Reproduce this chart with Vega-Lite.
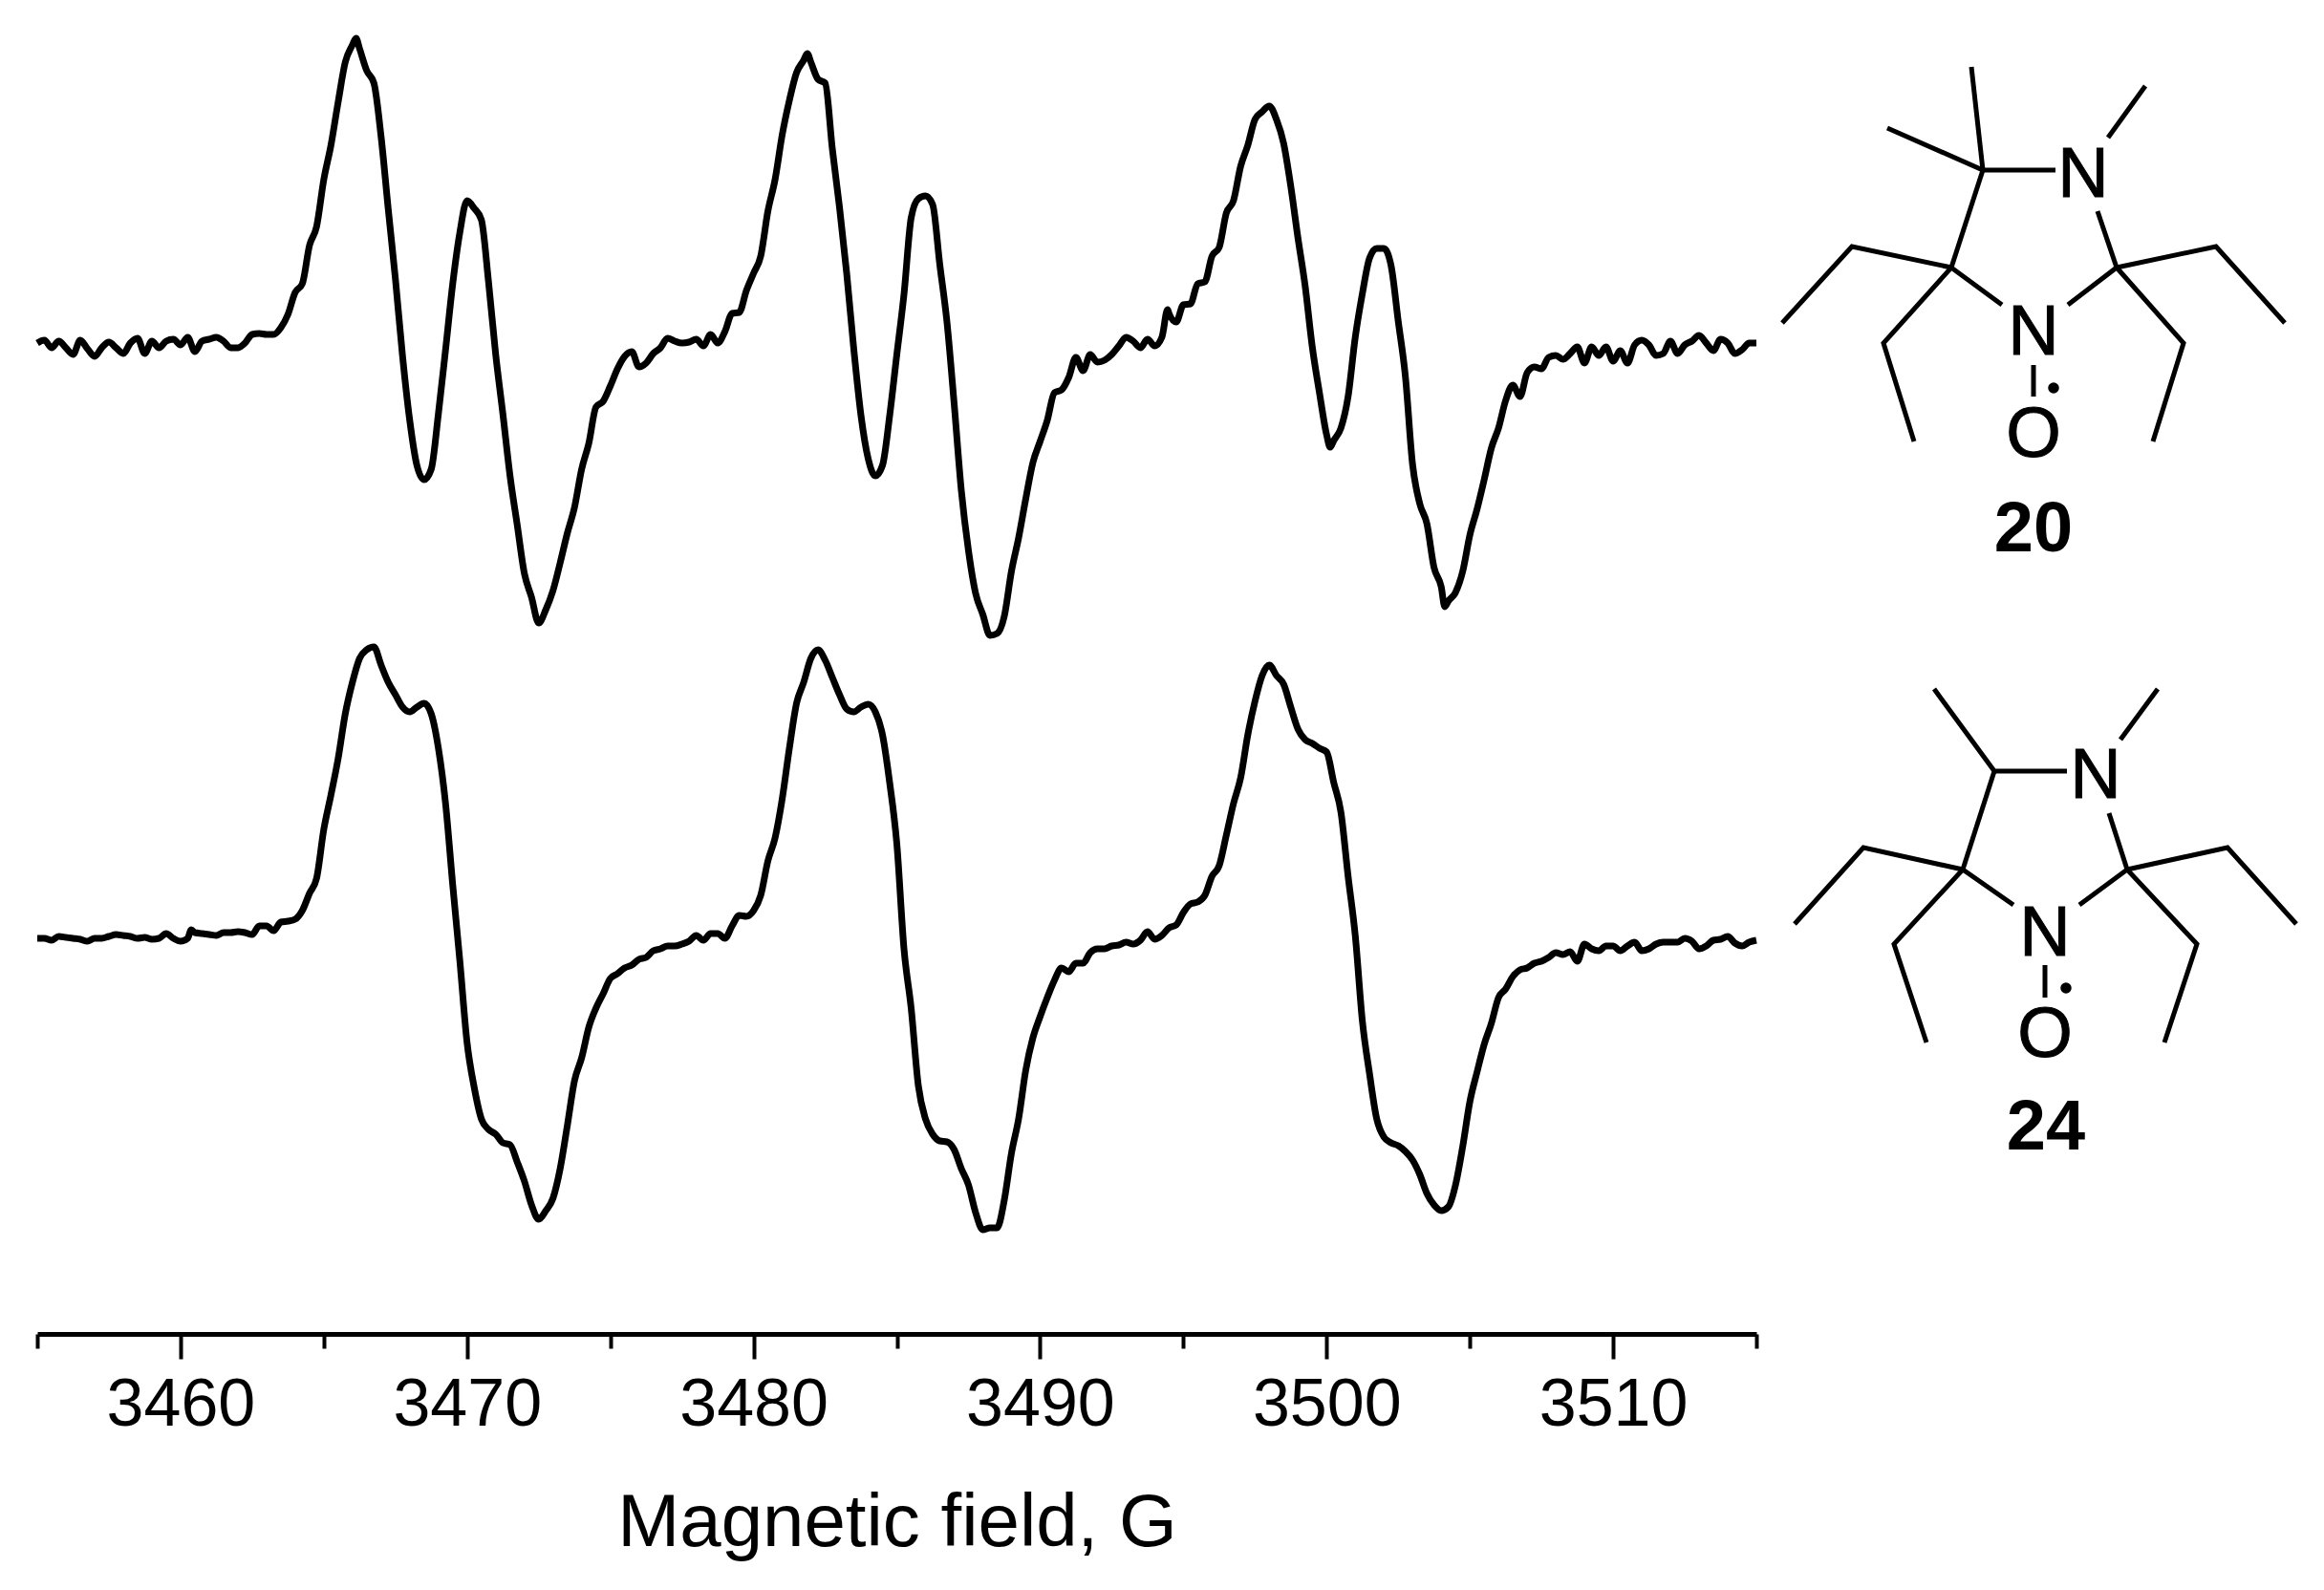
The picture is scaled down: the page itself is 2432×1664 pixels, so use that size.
{
"$schema":"https://vega.github.io/schema/vega-lite/v6.json",
"width":2432,"height":1396,
"autosize":"none",
"padding":{"left":0,"top":0,"right":0,"bottom":268},
"background":"white",
"config":{"view":{"stroke":null},"font":"Liberation Sans"},
"datasets":{
"spectra":[
{"t":"20","G":3455,"s":359},{"t":"20","G":3455.25,"s":356},{"t":"20","G":3455.5,"s":364},{"t":"20","G":3455.75,"s":357},
{"t":"20","G":3456,"s":364},{"t":"20","G":3456.25,"s":371},{"t":"20","G":3456.5,"s":356},{"t":"20","G":3456.75,"s":365},
{"t":"20","G":3457,"s":373},{"t":"20","G":3457.25,"s":364},{"t":"20","G":3457.5,"s":358},{"t":"20","G":3457.75,"s":364},
{"t":"20","G":3458,"s":370},{"t":"20","G":3458.25,"s":359},{"t":"20","G":3458.5,"s":354},{"t":"20","G":3458.75,"s":370},
{"t":"20","G":3459,"s":357},{"t":"20","G":3459.25,"s":364},{"t":"20","G":3459.5,"s":357},{"t":"20","G":3459.75,"s":355},
{"t":"20","G":3460,"s":361},{"t":"20","G":3460.25,"s":353},{"t":"20","G":3460.5,"s":368},{"t":"20","G":3460.75,"s":357},
{"t":"20","G":3461,"s":355},{"t":"20","G":3461.25,"s":353},{"t":"20","G":3461.5,"s":357},{"t":"20","G":3461.75,"s":364},
{"t":"20","G":3462,"s":364},{"t":"20","G":3462.25,"s":359},{"t":"20","G":3462.5,"s":350},{"t":"20","G":3462.75,"s":349},
{"t":"20","G":3463,"s":350},{"t":"20","G":3463.25,"s":350},{"t":"20","G":3463.5,"s":343},{"t":"20","G":3463.75,"s":329},
{"t":"20","G":3464,"s":306},{"t":"20","G":3464.25,"s":297},{"t":"20","G":3464.5,"s":257},{"t":"20","G":3464.75,"s":237},
{"t":"20","G":3465,"s":188},{"t":"20","G":3465.25,"s":152},{"t":"20","G":3465.5,"s":107},{"t":"20","G":3465.75,"s":65},
{"t":"20","G":3466,"s":47},{"t":"20","G":3466.125,"s":40},{"t":"20","G":3466.25,"s":51},{"t":"20","G":3466.5,"s":74},{"t":"20","G":3466.75,"s":87},
{"t":"20","G":3467,"s":143},{"t":"20","G":3467.25,"s":219},{"t":"20","G":3467.5,"s":292},{"t":"20","G":3467.75,"s":373},
{"t":"20","G":3468,"s":440},{"t":"20","G":3468.25,"s":487},{"t":"20","G":3468.5,"s":502},{"t":"20","G":3468.75,"s":491},
{"t":"20","G":3469,"s":433},{"t":"20","G":3469.25,"s":366},{"t":"20","G":3469.5,"s":297},{"t":"20","G":3469.75,"s":243},
{"t":"20","G":3470,"s":210},{"t":"20","G":3470.25,"s":218},{"t":"20","G":3470.5,"s":230},{"t":"20","G":3470.75,"s":295},
{"t":"20","G":3471,"s":371},{"t":"20","G":3471.25,"s":433},{"t":"20","G":3471.5,"s":498},{"t":"20","G":3471.75,"s":549},
{"t":"20","G":3472,"s":600},{"t":"20","G":3472.25,"s":625},{"t":"20","G":3472.5,"s":652},{"t":"20","G":3472.75,"s":638},
{"t":"20","G":3473,"s":618},{"t":"20","G":3473.25,"s":589},{"t":"20","G":3473.5,"s":558},{"t":"20","G":3473.75,"s":531},
{"t":"20","G":3474,"s":491},{"t":"20","G":3474.25,"s":464},{"t":"20","G":3474.5,"s":426},{"t":"20","G":3474.75,"s":420},
{"t":"20","G":3475,"s":404},{"t":"20","G":3475.25,"s":386},{"t":"20","G":3475.5,"s":373},{"t":"20","G":3475.75,"s":368},
{"t":"20","G":3476,"s":384},{"t":"20","G":3476.25,"s":380},{"t":"20","G":3476.5,"s":370},{"t":"20","G":3476.75,"s":364},
{"t":"20","G":3477,"s":354},{"t":"20","G":3477.25,"s":357},{"t":"20","G":3477.5,"s":359},{"t":"20","G":3477.75,"s":358},
{"t":"20","G":3478,"s":355},{"t":"20","G":3478.25,"s":362},{"t":"20","G":3478.5,"s":350},{"t":"20","G":3478.75,"s":359},
{"t":"20","G":3479,"s":347},{"t":"20","G":3479.25,"s":328},{"t":"20","G":3479.5,"s":327},{"t":"20","G":3479.75,"s":304},
{"t":"20","G":3480,"s":286},{"t":"20","G":3480.25,"s":268},{"t":"20","G":3480.5,"s":221},{"t":"20","G":3480.75,"s":188},
{"t":"20","G":3481,"s":141},{"t":"20","G":3481.25,"s":105},{"t":"20","G":3481.5,"s":76},{"t":"20","G":3481.75,"s":63},
{"t":"20","G":3481.875,"s":56},{"t":"20","G":3482,"s":65},{"t":"20","G":3482.25,"s":83},{"t":"20","G":3482.5,"s":87},{"t":"20","G":3482.75,"s":156},
{"t":"20","G":3483,"s":217},{"t":"20","G":3483.25,"s":286},{"t":"20","G":3483.5,"s":366},{"t":"20","G":3483.75,"s":435},
{"t":"20","G":3484,"s":480},{"t":"20","G":3484.25,"s":498},{"t":"20","G":3484.5,"s":487},{"t":"20","G":3484.75,"s":435},
{"t":"20","G":3485,"s":371},{"t":"20","G":3485.25,"s":308},{"t":"20","G":3485.5,"s":228},{"t":"20","G":3485.75,"s":208},
{"t":"20","G":3486,"s":205},{"t":"20","G":3486.25,"s":214},{"t":"20","G":3486.5,"s":277},{"t":"20","G":3486.75,"s":337},
{"t":"20","G":3487,"s":422},{"t":"20","G":3487.25,"s":513},{"t":"20","G":3487.5,"s":576},{"t":"20","G":3487.75,"s":621},
{"t":"20","G":3488,"s":643},{"t":"20","G":3488.25,"s":665},{"t":"20","G":3488.5,"s":663},{"t":"20","G":3488.75,"s":645},
{"t":"20","G":3489,"s":598},{"t":"20","G":3489.25,"s":563},{"t":"20","G":3489.5,"s":522},{"t":"20","G":3489.75,"s":484},
{"t":"20","G":3490,"s":462},{"t":"20","G":3490.25,"s":440},{"t":"20","G":3490.5,"s":411},{"t":"20","G":3490.75,"s":408},
{"t":"20","G":3491,"s":395},{"t":"20","G":3491.25,"s":374},{"t":"20","G":3491.5,"s":388},{"t":"20","G":3491.75,"s":371},
{"t":"20","G":3492,"s":379},{"t":"20","G":3492.25,"s":377},{"t":"20","G":3492.5,"s":371},{"t":"20","G":3492.75,"s":362},
{"t":"20","G":3493,"s":353},{"t":"20","G":3493.25,"s":357},{"t":"20","G":3493.5,"s":364},{"t":"20","G":3493.75,"s":355},
{"t":"20","G":3494,"s":362},{"t":"20","G":3494.25,"s":353},{"t":"20","G":3494.45,"s":324},{"t":"20","G":3494.5,"s":328},{"t":"20","G":3494.75,"s":337},
{"t":"20","G":3495,"s":319},{"t":"20","G":3495.25,"s":318},{"t":"20","G":3495.5,"s":297},{"t":"20","G":3495.75,"s":295},
{"t":"20","G":3496,"s":268},{"t":"20","G":3496.25,"s":259},{"t":"20","G":3496.5,"s":223},{"t":"20","G":3496.75,"s":210},
{"t":"20","G":3497,"s":174},{"t":"20","G":3497.25,"s":152},{"t":"20","G":3497.5,"s":125},{"t":"20","G":3497.75,"s":117},
{"t":"20","G":3498,"s":111},{"t":"20","G":3498.25,"s":125},{"t":"20","G":3498.5,"s":150},{"t":"20","G":3498.75,"s":195},
{"t":"20","G":3499,"s":249},{"t":"20","G":3499.25,"s":299},{"t":"20","G":3499.5,"s":363},{"t":"20","G":3499.75,"s":411},
{"t":"20","G":3500,"s":455},{"t":"20","G":3500.125,"s":468},{"t":"20","G":3500.25,"s":461},{"t":"20","G":3500.5,"s":448},{"t":"20","G":3500.75,"s":415},
{"t":"20","G":3501,"s":353},{"t":"20","G":3501.25,"s":307},{"t":"20","G":3501.5,"s":270},{"t":"20","G":3501.75,"s":260},
{"t":"20","G":3502,"s":260},{"t":"20","G":3502.25,"s":278},{"t":"20","G":3502.5,"s":336},{"t":"20","G":3502.75,"s":394},
{"t":"20","G":3503,"s":486},{"t":"20","G":3503.25,"s":527},{"t":"20","G":3503.5,"s":548},{"t":"20","G":3503.75,"s":594},
{"t":"20","G":3504,"s":614},{"t":"20","G":3504.125,"s":635},{"t":"20","G":3504.25,"s":629},{"t":"20","G":3504.5,"s":620},{"t":"20","G":3504.75,"s":598},
{"t":"20","G":3505,"s":560},{"t":"20","G":3505.25,"s":533},{"t":"20","G":3505.5,"s":502},{"t":"20","G":3505.75,"s":469},
{"t":"20","G":3506,"s":448},{"t":"20","G":3506.25,"s":419},{"t":"20","G":3506.5,"s":403},{"t":"20","G":3506.75,"s":415},
{"t":"20","G":3507,"s":390},{"t":"20","G":3507.25,"s":384},{"t":"20","G":3507.5,"s":386},{"t":"20","G":3507.75,"s":374},
{"t":"20","G":3508,"s":372},{"t":"20","G":3508.25,"s":376},{"t":"20","G":3508.5,"s":370},{"t":"20","G":3508.75,"s":363},
{"t":"20","G":3509,"s":380},{"t":"20","G":3509.25,"s":363},{"t":"20","G":3509.5,"s":372},{"t":"20","G":3509.75,"s":363},
{"t":"20","G":3510,"s":378},{"t":"20","G":3510.25,"s":367},{"t":"20","G":3510.5,"s":380},{"t":"20","G":3510.75,"s":361},
{"t":"20","G":3511,"s":356},{"t":"20","G":3511.25,"s":361},{"t":"20","G":3511.5,"s":372},{"t":"20","G":3511.75,"s":370},
{"t":"20","G":3512,"s":357},{"t":"20","G":3512.25,"s":370},{"t":"20","G":3512.5,"s":361},{"t":"20","G":3512.75,"s":357},
{"t":"20","G":3513,"s":351},{"t":"20","G":3513.25,"s":359},{"t":"20","G":3513.5,"s":367},{"t":"20","G":3513.75,"s":355},
{"t":"20","G":3514,"s":359},{"t":"20","G":3514.25,"s":370},{"t":"20","G":3514.5,"s":366},{"t":"20","G":3514.75,"s":359},
{"t":"20","G":3515,"s":359},
{"t":"24","G":3455,"s":982},{"t":"24","G":3455.25,"s":982},{"t":"24","G":3455.5,"s":984},{"t":"24","G":3455.75,"s":980},
{"t":"24","G":3456,"s":981},{"t":"24","G":3456.25,"s":982},{"t":"24","G":3456.5,"s":983},{"t":"24","G":3456.75,"s":985},
{"t":"24","G":3457,"s":982},{"t":"24","G":3457.25,"s":982},{"t":"24","G":3457.5,"s":980},{"t":"24","G":3457.75,"s":978},
{"t":"24","G":3458,"s":979},{"t":"24","G":3458.25,"s":980},{"t":"24","G":3458.5,"s":982},{"t":"24","G":3458.75,"s":981},
{"t":"24","G":3459,"s":983},{"t":"24","G":3459.25,"s":982},{"t":"24","G":3459.5,"s":977},{"t":"24","G":3459.75,"s":982},
{"t":"24","G":3460,"s":985},{"t":"24","G":3460.25,"s":982},{"t":"24","G":3460.375,"s":973},{"t":"24","G":3460.5,"s":976},{"t":"24","G":3460.75,"s":977},
{"t":"24","G":3461,"s":978},{"t":"24","G":3461.25,"s":979},{"t":"24","G":3461.5,"s":976},{"t":"24","G":3461.75,"s":976},
{"t":"24","G":3462,"s":975},{"t":"24","G":3462.25,"s":976},{"t":"24","G":3462.5,"s":978},{"t":"24","G":3462.75,"s":969},
{"t":"24","G":3463,"s":969},{"t":"24","G":3463.25,"s":974},{"t":"24","G":3463.5,"s":965},{"t":"24","G":3463.75,"s":964},
{"t":"24","G":3464,"s":962},{"t":"24","G":3464.25,"s":953},{"t":"24","G":3464.5,"s":935},{"t":"24","G":3464.75,"s":919},
{"t":"24","G":3465,"s":868},{"t":"24","G":3465.25,"s":832},{"t":"24","G":3465.5,"s":794},{"t":"24","G":3465.75,"s":747},
{"t":"24","G":3466,"s":714},{"t":"24","G":3466.25,"s":689},{"t":"24","G":3466.5,"s":680},{"t":"24","G":3466.75,"s":677},
{"t":"24","G":3467,"s":696},{"t":"24","G":3467.25,"s":714},{"t":"24","G":3467.5,"s":727},{"t":"24","G":3467.75,"s":740},
{"t":"24","G":3468,"s":745},{"t":"24","G":3468.25,"s":740},{"t":"24","G":3468.5,"s":736},{"t":"24","G":3468.75,"s":747},
{"t":"24","G":3469,"s":783},{"t":"24","G":3469.25,"s":841},{"t":"24","G":3469.5,"s":926},{"t":"24","G":3469.75,"s":1006},
{"t":"24","G":3470,"s":1091},{"t":"24","G":3470.25,"s":1138},{"t":"24","G":3470.5,"s":1171},{"t":"24","G":3470.75,"s":1182},
{"t":"24","G":3471,"s":1187},{"t":"24","G":3471.25,"s":1196},{"t":"24","G":3471.5,"s":1198},{"t":"24","G":3471.75,"s":1216},
{"t":"24","G":3472,"s":1236},{"t":"24","G":3472.25,"s":1261},{"t":"24","G":3472.5,"s":1276},{"t":"24","G":3472.75,"s":1267},
{"t":"24","G":3473,"s":1254},{"t":"24","G":3473.25,"s":1223},{"t":"24","G":3473.5,"s":1178},{"t":"24","G":3473.75,"s":1131},
{"t":"24","G":3474,"s":1107},{"t":"24","G":3474.25,"s":1075},{"t":"24","G":3474.5,"s":1055},{"t":"24","G":3474.75,"s":1040},
{"t":"24","G":3475,"s":1024},{"t":"24","G":3475.25,"s":1019},{"t":"24","G":3475.5,"s":1013},{"t":"24","G":3475.75,"s":1010},
{"t":"24","G":3476,"s":1004},{"t":"24","G":3476.25,"s":1002},{"t":"24","G":3476.5,"s":995},{"t":"24","G":3476.75,"s":993},
{"t":"24","G":3477,"s":990},{"t":"24","G":3477.25,"s":990},{"t":"24","G":3477.5,"s":988},{"t":"24","G":3477.75,"s":985},
{"t":"24","G":3478,"s":979},{"t":"24","G":3478.25,"s":984},{"t":"24","G":3478.5,"s":977},{"t":"24","G":3478.75,"s":977},
{"t":"24","G":3479,"s":982},{"t":"24","G":3479.25,"s":969},{"t":"24","G":3479.5,"s":958},{"t":"24","G":3479.75,"s":959},
{"t":"24","G":3480,"s":953},{"t":"24","G":3480.25,"s":937},{"t":"24","G":3480.5,"s":901},{"t":"24","G":3480.75,"s":877},
{"t":"24","G":3481,"s":836},{"t":"24","G":3481.25,"s":783},{"t":"24","G":3481.5,"s":736},{"t":"24","G":3481.75,"s":714},
{"t":"24","G":3482,"s":689},{"t":"24","G":3482.25,"s":680},{"t":"24","G":3482.5,"s":691},{"t":"24","G":3482.75,"s":709},
{"t":"24","G":3483,"s":727},{"t":"24","G":3483.25,"s":742},{"t":"24","G":3483.5,"s":745},{"t":"24","G":3483.75,"s":740},
{"t":"24","G":3484,"s":737},{"t":"24","G":3484.25,"s":745},{"t":"24","G":3484.5,"s":769},{"t":"24","G":3484.75,"s":819},
{"t":"24","G":3485,"s":883},{"t":"24","G":3485.25,"s":993},{"t":"24","G":3485.5,"s":1055},{"t":"24","G":3485.75,"s":1136},
{"t":"24","G":3486,"s":1171},{"t":"24","G":3486.25,"s":1187},{"t":"24","G":3486.5,"s":1194},{"t":"24","G":3486.75,"s":1195},
{"t":"24","G":3487,"s":1203},{"t":"24","G":3487.25,"s":1223},{"t":"24","G":3487.5,"s":1240},{"t":"24","G":3487.75,"s":1269},
{"t":"24","G":3488,"s":1287},{"t":"24","G":3488.25,"s":1285},{"t":"24","G":3488.5,"s":1285},{"t":"24","G":3488.75,"s":1256},
{"t":"24","G":3489,"s":1207},{"t":"24","G":3489.25,"s":1171},{"t":"24","G":3489.5,"s":1120},{"t":"24","G":3489.75,"s":1086},
{"t":"24","G":3490,"s":1064},{"t":"24","G":3490.25,"s":1044},{"t":"24","G":3490.5,"s":1026},{"t":"24","G":3490.75,"s":1013},
{"t":"24","G":3491,"s":1017},{"t":"24","G":3491.25,"s":1008},{"t":"24","G":3491.5,"s":1008},{"t":"24","G":3491.75,"s":997},
{"t":"24","G":3492,"s":993},{"t":"24","G":3492.25,"s":993},{"t":"24","G":3492.5,"s":990},{"t":"24","G":3492.75,"s":989},
{"t":"24","G":3493,"s":986},{"t":"24","G":3493.25,"s":988},{"t":"24","G":3493.5,"s":984},{"t":"24","G":3493.75,"s":975},
{"t":"24","G":3494,"s":983},{"t":"24","G":3494.25,"s":979},{"t":"24","G":3494.5,"s":971},{"t":"24","G":3494.75,"s":968},
{"t":"24","G":3495,"s":955},{"t":"24","G":3495.25,"s":946},{"t":"24","G":3495.5,"s":944},{"t":"24","G":3495.75,"s":937},
{"t":"24","G":3496,"s":917},{"t":"24","G":3496.25,"s":906},{"t":"24","G":3496.5,"s":874},{"t":"24","G":3496.75,"s":841},
{"t":"24","G":3497,"s":814},{"t":"24","G":3497.25,"s":769},{"t":"24","G":3497.5,"s":734},{"t":"24","G":3497.75,"s":707},
{"t":"24","G":3498,"s":696},{"t":"24","G":3498.25,"s":707},{"t":"24","G":3498.5,"s":716},{"t":"24","G":3498.75,"s":740},
{"t":"24","G":3499,"s":763},{"t":"24","G":3499.25,"s":774},{"t":"24","G":3499.5,"s":778},{"t":"24","G":3499.75,"s":783},
{"t":"24","G":3500,"s":787},{"t":"24","G":3500.25,"s":819},{"t":"24","G":3500.5,"s":850},{"t":"24","G":3500.75,"s":917},
{"t":"24","G":3501,"s":979},{"t":"24","G":3501.25,"s":1069},{"t":"24","G":3501.5,"s":1124},{"t":"24","G":3501.75,"s":1171},
{"t":"24","G":3502,"s":1190},{"t":"24","G":3502.25,"s":1196},{"t":"24","G":3502.5,"s":1199},{"t":"24","G":3502.75,"s":1205},
{"t":"24","G":3503,"s":1214},{"t":"24","G":3503.25,"s":1229},{"t":"24","G":3503.5,"s":1249},{"t":"24","G":3503.75,"s":1261},
{"t":"24","G":3504,"s":1267},{"t":"24","G":3504.25,"s":1263},{"t":"24","G":3504.5,"s":1240},{"t":"24","G":3504.75,"s":1200},
{"t":"24","G":3505,"s":1153},{"t":"24","G":3505.25,"s":1122},{"t":"24","G":3505.5,"s":1093},{"t":"24","G":3505.75,"s":1071},
{"t":"24","G":3506,"s":1044},{"t":"24","G":3506.25,"s":1035},{"t":"24","G":3506.5,"s":1022},{"t":"24","G":3506.75,"s":1015},
{"t":"24","G":3507,"s":1013},{"t":"24","G":3507.25,"s":1008},{"t":"24","G":3507.5,"s":1006},{"t":"24","G":3507.75,"s":1002},
{"t":"24","G":3508,"s":997},{"t":"24","G":3508.25,"s":999},{"t":"24","G":3508.5,"s":996},{"t":"24","G":3508.75,"s":1006},
{"t":"24","G":3509,"s":988},{"t":"24","G":3509.25,"s":993},{"t":"24","G":3509.5,"s":995},{"t":"24","G":3509.75,"s":990},
{"t":"24","G":3510,"s":990},{"t":"24","G":3510.25,"s":995},{"t":"24","G":3510.5,"s":990},{"t":"24","G":3510.75,"s":986},
{"t":"24","G":3511,"s":995},{"t":"24","G":3511.25,"s":993},{"t":"24","G":3511.5,"s":988},{"t":"24","G":3511.75,"s":986},
{"t":"24","G":3512,"s":986},{"t":"24","G":3512.25,"s":986},{"t":"24","G":3512.5,"s":982},{"t":"24","G":3512.75,"s":985},
{"t":"24","G":3513,"s":993},{"t":"24","G":3513.25,"s":990},{"t":"24","G":3513.5,"s":984},{"t":"24","G":3513.75,"s":983},
{"t":"24","G":3514,"s":980},{"t":"24","G":3514.25,"s":987},{"t":"24","G":3514.5,"s":990},{"t":"24","G":3514.75,"s":986},
{"t":"24","G":3515,"s":984}
],
"bonds":[
{"b":"a1","o":1,"x":2063,"y":70},{"b":"a1","o":2,"x":2075,"y":178},
{"b":"a2","o":1,"x":1975,"y":134},{"b":"a2","o":2,"x":2075,"y":178},{"b":"a2","o":3,"x":2151,"y":178},
{"b":"a3","o":1,"x":2206,"y":144},{"b":"a3","o":2,"x":2245,"y":90},
{"b":"a4","o":1,"x":2075,"y":178},{"b":"a4","o":2,"x":2042,"y":280},
{"b":"a5","o":1,"x":2195,"y":221},{"b":"a5","o":2,"x":2215,"y":280},
{"b":"a6","o":1,"x":1865,"y":338},{"b":"a6","o":2,"x":1938,"y":258},{"b":"a6","o":3,"x":2042,"y":280},
{"b":"a7","o":1,"x":2003,"y":462},{"b":"a7","o":2,"x":1971,"y":359},{"b":"a7","o":3,"x":2042,"y":280},{"b":"a7","o":4,"x":2095,"y":319},
{"b":"a8","o":1,"x":2164,"y":319},{"b":"a8","o":2,"x":2215,"y":280},{"b":"a8","o":3,"x":2285,"y":359},{"b":"a8","o":4,"x":2253,"y":462},
{"b":"a9","o":1,"x":2215,"y":280},{"b":"a9","o":2,"x":2319,"y":258},{"b":"a9","o":3,"x":2391,"y":338},
{"b":"a10","o":1,"x":2128,"y":382},{"b":"a10","o":2,"x":2128,"y":415},
{"b":"b1","o":1,"x":2024,"y":721},{"b":"b1","o":2,"x":2087,"y":807},{"b":"b1","o":3,"x":2163,"y":807},
{"b":"b3","o":1,"x":2219,"y":774},{"b":"b3","o":2,"x":2258,"y":721},
{"b":"b4","o":1,"x":2087,"y":807},{"b":"b4","o":2,"x":2054,"y":910},
{"b":"b5","o":1,"x":2207,"y":851},{"b":"b5","o":2,"x":2226,"y":910},
{"b":"b6","o":1,"x":1878,"y":967},{"b":"b6","o":2,"x":1950,"y":887},{"b":"b6","o":3,"x":2054,"y":910},
{"b":"b7","o":1,"x":2016,"y":1091},{"b":"b7","o":2,"x":1982,"y":988},{"b":"b7","o":3,"x":2054,"y":910},{"b":"b7","o":4,"x":2107,"y":947},
{"b":"b8","o":1,"x":2176,"y":947},{"b":"b8","o":2,"x":2226,"y":910},{"b":"b8","o":3,"x":2299,"y":988},{"b":"b8","o":4,"x":2265,"y":1091},
{"b":"b9","o":1,"x":2226,"y":910},{"b":"b9","o":2,"x":2331,"y":887},{"b":"b9","o":3,"x":2403,"y":967},
{"b":"b10","o":1,"x":2140,"y":1010},{"b":"b10","o":2,"x":2140,"y":1044}
],
"atoms":[
{"x":2180,"y":184,"a":"N"},{"x":2128,"y":349,"a":"N"},{"x":2128,"y":456,"a":"O"},
{"x":2193,"y":813,"a":"N"},{"x":2140,"y":978,"a":"N"},{"x":2140,"y":1084,"a":"O"}
],
"labels":[{"x":2128,"y":555,"a":"20"},{"x":2141,"y":1181,"a":"24"}],
"radicals":[{"x":2149,"y":406},{"x":2162,"y":1034}]
},
"layer":[
{
"data":{"name":"spectra"},
"mark":{"type":"line","color":"black","strokeWidth":7,"strokeJoin":"round","interpolate":"monotone"},
"encoding":{
"x":{"field":"G","type":"quantitative","title":"Magnetic field, G",
"scale":{"domain":[3455,3515],"range":[39,1838],"nice":false,"zero":false},
"axis":{"values":[3455,3460,3465,3470,3475,3480,3485,3490,3495,3500,3505,3510,3515],
"labelExpr":"datum.value % 10 === 0 ? datum.value : ''",
"format":"d","grid":false,"domainColor":"black","domainWidth":5,"tickColor":"black","tickWidth":4,
"tickSize":{"condition":{"test":"datum.value % 10 === 0","value":26},"value":15},
"labelColor":"black","labelFont":"Liberation Sans","labelFontSize":70,"labelPadding":14,"labelFlush":false,"labelOverlap":false,
"titleColor":"black","titleFont":"Liberation Sans","titleFontSize":78,"titleFontWeight":"normal","titlePadding":50}},
"y":{"field":"s","type":"quantitative","axis":null,"scale":{"domain":[0,1396],"range":[0,1396],"nice":false,"zero":false}},
"detail":{"field":"t"}
}
},
{
"data":{"name":"bonds"},
"mark":{"type":"line","color":"black","strokeWidth":5,"strokeJoin":"miter"},
"encoding":{
"x":{"field":"x","type":"quantitative","axis":null,"scale":{"domain":[0,2432],"range":[0,2432],"nice":false,"zero":false}},
"y":{"field":"y","type":"quantitative","axis":null,"scale":{"domain":[0,1396],"range":[0,1396],"nice":false,"zero":false}},
"detail":{"field":"b"},
"order":{"field":"o"}
}
},
{
"data":{"name":"atoms"},
"mark":{"type":"text","color":"black","stroke":"black","strokeWidth":1,"font":"Liberation Sans","fontSize":74,"align":"center","baseline":"middle"},
"encoding":{
"x":{"field":"x","type":"quantitative","axis":null,"scale":{"domain":[0,2432],"range":[0,2432],"nice":false,"zero":false}},
"y":{"field":"y","type":"quantitative","axis":null,"scale":{"domain":[0,1396],"range":[0,1396],"nice":false,"zero":false}},
"text":{"field":"a"}
}
},
{
"data":{"name":"labels"},
"mark":{"type":"text","color":"black","font":"Liberation Sans","fontSize":74,"fontWeight":"bold","align":"center","baseline":"middle"},
"encoding":{
"x":{"field":"x","type":"quantitative","axis":null,"scale":{"domain":[0,2432],"range":[0,2432],"nice":false,"zero":false}},
"y":{"field":"y","type":"quantitative","axis":null,"scale":{"domain":[0,1396],"range":[0,1396],"nice":false,"zero":false}},
"text":{"field":"a"}
}
},
{
"data":{"name":"radicals"},
"mark":{"type":"circle","color":"black","opacity":1,"size":133},
"encoding":{
"x":{"field":"x","type":"quantitative","axis":null,"scale":{"domain":[0,2432],"range":[0,2432],"nice":false,"zero":false}},
"y":{"field":"y","type":"quantitative","axis":null,"scale":{"domain":[0,1396],"range":[0,1396],"nice":false,"zero":false}}
}
}
],
"resolve":{"scale":{"x":"independent"}}
}
